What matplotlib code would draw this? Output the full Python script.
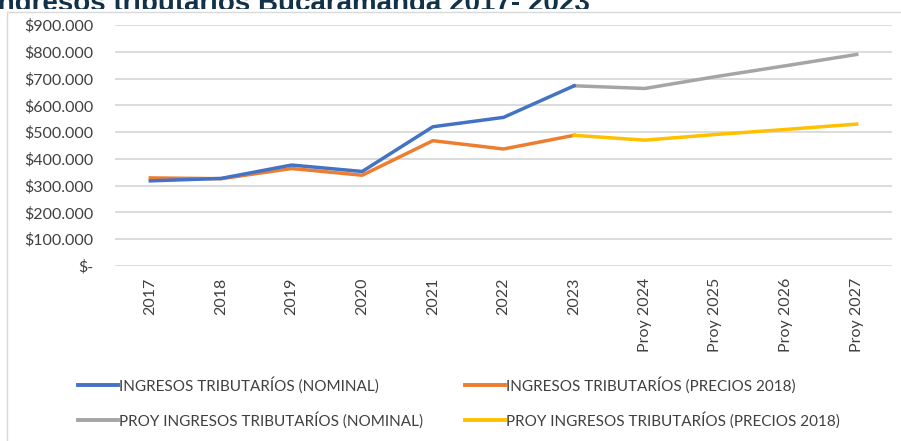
import matplotlib.pyplot as plt
from matplotlib.lines import Line2D
from matplotlib.patches import Rectangle
from matplotlib.ticker import FuncFormatter

# Ingresos tributarios, millones de pesos
years = ['2017', '2018', '2019', '2020', '2021', '2022', '2023',
         'Proy 2024', 'Proy 2025', 'Proy 2026', 'Proy 2027']
nominal = [318000, 327000, 377000, 353000, 520000, 555000, 673000]
precios_2018 = [329000, 326000, 364000, 339000, 468000, 437000, 488000]
proy_nominal = [673000, 663000, 707000, 748000, 790000]
proy_precios_2018 = [488000, 470000, 491000, 510000, 530000]

labels = ['INGRESOS TRIBUTARÍOS (NOMINAL)',
          'INGRESOS TRIBUTARÍOS (PRECIOS 2018)',
          'PROY INGRESOS TRIBUTARÍOS (NOMINAL)',
          'PROY INGRESOS TRIBUTARÍOS (PRECIOS 2018)']
colors = ['#4472C4', '#ED7D31', '#A5A5A5', '#FFC000']

W, H = 901, 441
TXT = '#404040'
fig = plt.figure(figsize=(W / 100, H / 100), dpi=100)
fig.patch.set_facecolor('white')


def px(x, y):
    # pixel position from the top-left corner -> figure fraction
    return x / W, 1 - y / H


# page title sits behind the chart, only its upper strip shows
fig.text(*px(-10, 11), 'Ingresos tributarios Bucaramanga 2017- 2023',
         fontsize=20, fontweight='bold', color='#12324A',
         family='Liberation Sans', ha='left', va='baseline', zorder=0)
fig.add_artist(Rectangle(px(0, 460), 1.0, (460 - 9) / H, transform=fig.transFigure,
                         facecolor='white', edgecolor='none', zorder=1))
fig.add_artist(Rectangle(px(7, 460), 1.0, (460 - 12) / H, transform=fig.transFigure,
                         facecolor='white', edgecolor='#D9D9D9', linewidth=1.0, zorder=1))

ax = fig.add_axes([115 / W, (H - 266) / H, (892 - 115) / W, (266 - 25) / H])
ax.set_zorder(2)
ax.patch.set_alpha(0)

x_hist = list(range(len(nominal)))
x_proy = list(range(len(nominal) - 1, len(years)))

lw = 2.5
ax.plot(x_hist, nominal, color=colors[0], lw=lw, solid_joinstyle='round', zorder=4)
ax.plot(x_hist, precios_2018, color=colors[1], lw=lw, solid_joinstyle='round', zorder=3)
ax.plot(x_proy, proy_nominal, color=colors[2], lw=lw, solid_joinstyle='round', zorder=3)
ax.plot(x_proy, proy_precios_2018, color=colors[3], lw=lw, solid_joinstyle='round', zorder=3)

ax.set_xlim(-0.5, len(years) - 0.5)
ax.set_ylim(0, 900000)
ax.set_yticks(range(0, 900001, 100000))


def money(v, pos):
    if v == 0:
        return '$-'
    return '$' + f'{int(v):,}'.replace(',', '.')


ax.yaxis.set_major_formatter(FuncFormatter(money))
ax.set_xticks(range(len(years)))
ax.set_xticklabels(years, rotation=90, fontsize=11.5, color=TXT, family='Lato')
for t in ax.get_yticklabels():
    t.set_family('Lato')
    t.set_fontsize(11.5)
    t.set_color(TXT)

ax.tick_params(axis='both', length=0)
ax.tick_params(axis='x', pad=8.5)
ax.tick_params(axis='y', pad=15.5)
ax.grid(axis='y', color='#D9D9D9', linewidth=1.3)
ax.set_axisbelow(True)
for s in ax.spines.values():
    s.set_visible(False)

# legend: two rows, two columns
legend_pos = [(78, 385), (465, 385), (78, 420), (465, 420)]
for (lx, ly), c, lab in zip(legend_pos, colors, labels):
    fig.add_artist(Line2D([lx / W, (lx + 40) / W], [1 - ly / H] * 2,
                          transform=fig.transFigure, color=c, lw=2.8, zorder=3))
    fig.text(*px(lx + 41, ly), lab, fontsize=11, family='Lato', color=TXT,
             ha='left', va='center', zorder=3)

fig.savefig('out.png', dpi=100)
